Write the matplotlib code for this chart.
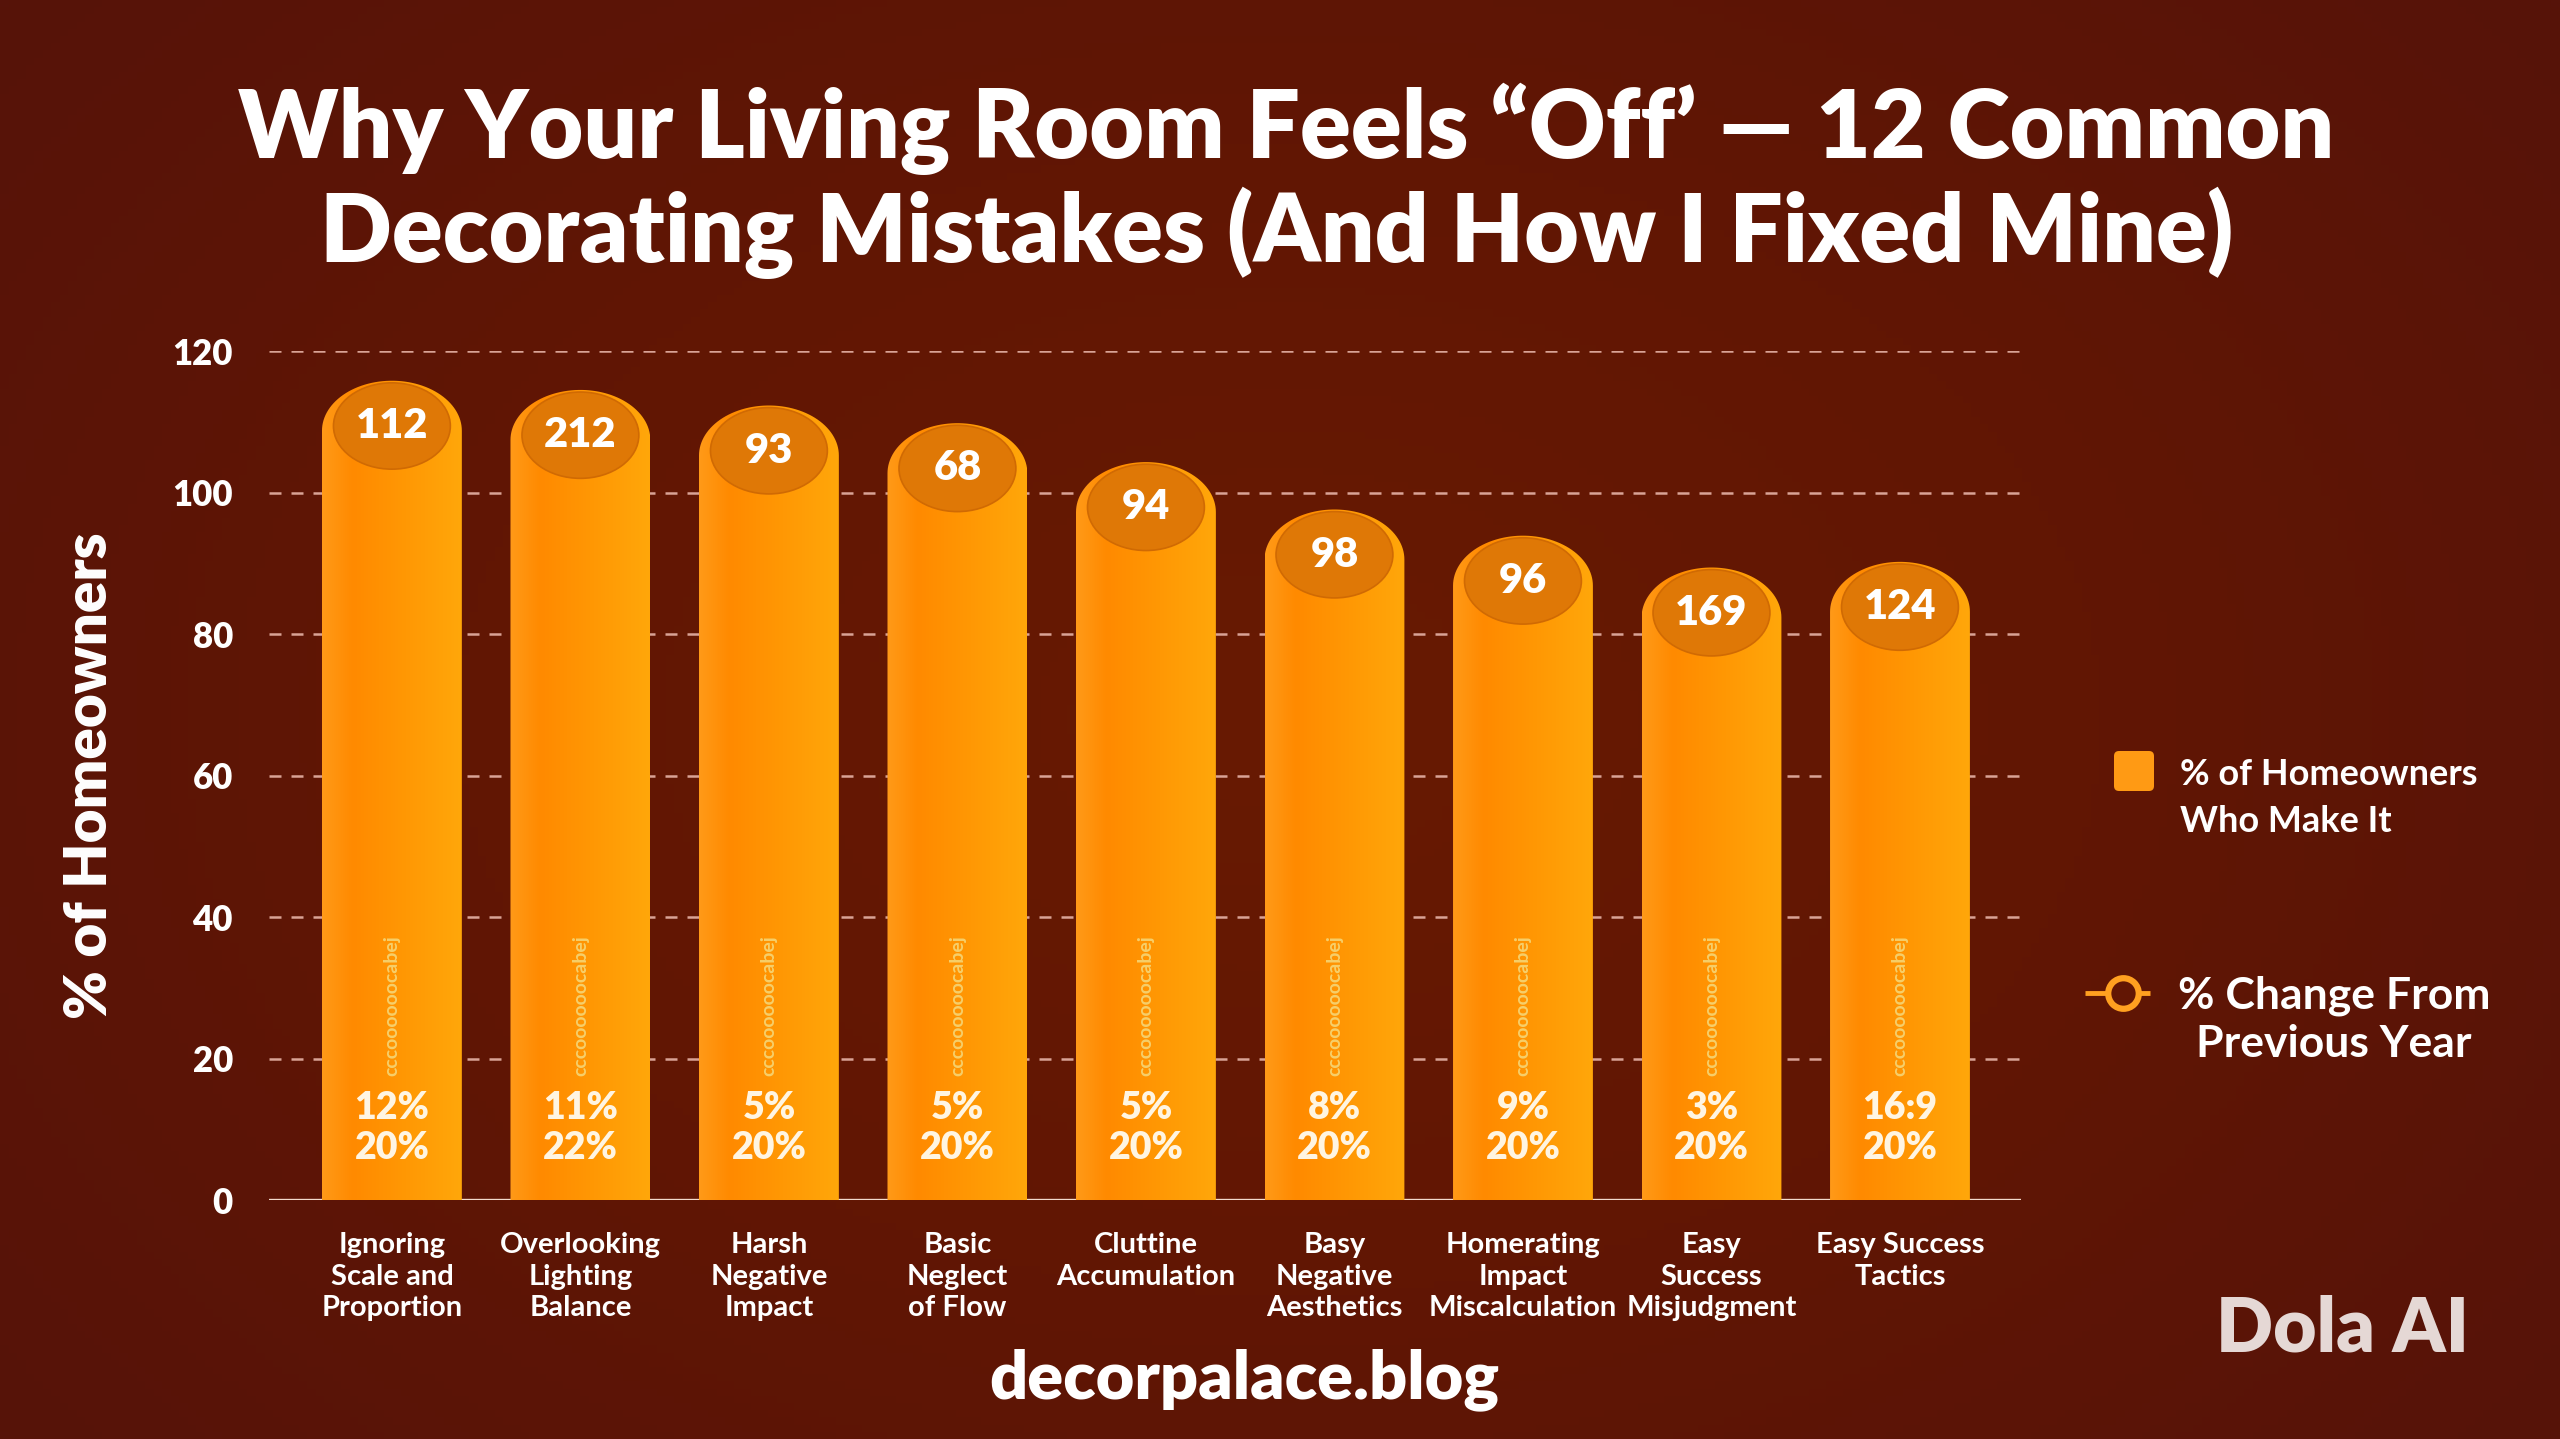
import numpy as np
import matplotlib
matplotlib.use("Agg")
from matplotlib import pyplot as plt
from matplotlib import font_manager
from matplotlib.path import Path
from matplotlib.patches import PathPatch, Ellipse, FancyBboxPatch
from matplotlib.colors import LinearSegmentedColormap

# data
categories = ["Ignoring\nScale and\nProportion", "Overlooking\nLighting\nBalance",
              "Harsh\nNegative\nImpact", "Basic\nNeglect\nof Flow", "Cluttine\nAccumulation",
              "Basy\nNegative\nAesthetics", "Homerating\nImpact\nMiscalculation",
              "Easy\nSuccess\nMisjudgment", "Easy Success\nTactics"]
homeowners = [115.8, 114.5, 112.3, 109.8, 104.3, 97.6, 93.9, 89.4, 90.2]
badges = ["112", "212", "93", "68", "94", "98", "96", "169", "124"]
change_pct = ["12%", "11%", "5%", "5%", "5%", "8%", "9%", "3%", "16:9"]
share_pct = ["20%", "22%", "20%", "20%", "20%", "20%", "20%", "20%", "20%"]
yticks = [0, 20, 40, 60, 80, 100, 120]

W, H = 2560, 1439
names = {f.name for f in font_manager.fontManager.ttflist}
FONT = "Lato" if "Lato" in names else "DejaVu Sans"
NARROW = "Liberation Sans Narrow" if "Liberation Sans Narrow" in names else FONT
plt.rcParams["font.family"] = [FONT, "DejaVu Sans"]

BG = "#621604"
fig = plt.figure(figsize=(W / 100, H / 100), dpi=100, facecolor=BG)


def fx(x):
    return x / W


def fy(y):
    return 1 - y / H


# background with a soft vignette, pixel coordinates
bg = fig.add_axes([0, 0, 1, 1], zorder=-10)
yy, xx = np.mgrid[0:1:200j, 0:1:300j]
r = np.sqrt((xx - 0.5) ** 2 + ((yy - 0.5) * 0.8) ** 2)
bg_cmap = LinearSegmentedColormap.from_list("bg", ["#681A02", "#611604", "#561309"])
bg.imshow(r, cmap=bg_cmap, extent=[0, W, H, 0], aspect="auto")
bg.set_xlim(0, W)
bg.set_ylim(H, 0)
bg.axis("off")

# main chart
ax = fig.add_axes([fx(269), fy(1200), fx(2021 - 269), (1200 - 351) / H])
ax.set_facecolor("none")
x = np.arange(len(categories))
half = 0.371
cap = 50 / 7.075

bar_cmap = LinearSegmentedColormap.from_list(
    "bar", [(0, "#FF9A18"), (0.22, "#FF8A00"), (0.6, "#FF9804"), (1, "#FFA70A")])
grad = np.tile(np.linspace(0, 1, 256), (64, 1))

for xi, h in zip(x, homeowners):
    t = np.linspace(0, np.pi, 60)
    verts = [(xi - half, 0), (xi + half, 0), (xi + half, h - cap)]
    verts += list(zip(xi + half * np.cos(t), h - cap + cap * np.sin(t)))
    verts += [(xi - half, 0)]
    codes = [Path.MOVETO] + [Path.LINETO] * (len(verts) - 2) + [Path.CLOSEPOLY]
    patch = PathPatch(Path(verts, codes), facecolor="none", edgecolor="none")
    ax.add_patch(patch)
    im = ax.imshow(grad, cmap=bar_cmap, extent=[xi - half, xi + half, 0, h],
                   aspect="auto", zorder=2)
    im.set_clip_path(patch)
    ax.add_patch(Ellipse((xi, h - 6.4), 0.62, 12.2, facecolor="#DF7806",
                         edgecolor="#D06A03", lw=1.2, zorder=3))

for xi, h, b in zip(x, homeowners, badges):
    ax.text(xi, h - 6.4, b, ha="center", va="center", fontsize=30,
            fontweight="heavy", color="white", zorder=5)

for xi, c, s in zip(x, change_pct, share_pct):
    ax.text(xi, 27.5, "cccoooooocabej", rotation=90, ha="center", va="center",
            fontsize=14, fontweight="bold", color="#F6CF6A", zorder=5)
    ax.text(xi, 13.0, c, ha="center", va="center", fontsize=27,
            fontweight="heavy", color="#FFF5E2", zorder=5)
    ax.text(xi, 7.3, s, ha="center", va="center", fontsize=27,
            fontweight="heavy", color="#FFF5E2", zorder=5)

ax.set_xlim(-0.652, 8.642)
ax.set_ylim(0, 120)
ax.set_yticks(yticks)
ax.set_yticklabels([str(v) for v in yticks], fontsize=25, fontweight="heavy", color="white")
ax.set_xticks(x)
ax.set_xticklabels(categories, fontsize=21, color="white", fontweight="bold",
                   family=[NARROW, "DejaVu Sans"], linespacing=1.27)
ax.tick_params(axis="y", length=0, pad=26)
ax.tick_params(axis="x", length=0, pad=23)
for sp in ax.spines.values():
    sp.set_visible(False)
ax.set_axisbelow(True)
ax.yaxis.grid(True, color="#D9A396", lw=1.8, linestyle=(0, (4.8, 4.0)))
ax.axhline(0, color="#F2DACD", lw=2.4, zorder=1)

# titles and texts
fig.text(fx(1286), fy(158), "Why Your Living Room Feels \u201cOff\u2019 \u2014 12 Common",
         ha="center", va="baseline", fontsize=68, fontweight="heavy", color="white")
fig.text(fx(1277), fy(262), "Decorating Mistakes (And How I Fixed Mine)",
         ha="center", va="baseline", fontsize=68, fontweight="heavy", color="white")
fig.text(fx(90), fy(776), "% of Homeowners", rotation=90, ha="center", va="center",
         fontsize=42, fontweight="heavy", color="white")
fig.text(fx(1244), fy(1398), "decorpalace.blog", ha="center", va="baseline",
         fontsize=48, fontweight="heavy", color="white")
fig.text(fx(2342), fy(1352), "Dola AI", ha="center", va="baseline",
         fontsize=54, fontweight="heavy", color="#E5D8D5")

# legend drawn in pixel space
bg.add_patch(FancyBboxPatch((2116, 753), 36, 36, boxstyle="round,pad=2,rounding_size=5",
                            facecolor="#FF9A14", edgecolor="none"))
fig.text(fx(2180), fy(798), "% of Homeowners\nWho Make It", ha="left", va="center",
         fontsize=26, fontweight="bold", color="white", linespacing=1.55)
bg.plot([2085, 2150], [993, 993], color="#FFA020", lw=3.5, solid_capstyle="butt")
bg.plot([2123], [993], marker="o", markersize=22, markerfacecolor=BG,
        markeredgecolor="#FFA020", markeredgewidth=4.5)
fig.text(fx(2334), fy(1020), "% Change From\nPrevious Year", ha="center", va="center",
         fontsize=32, fontweight="bold", color="white", linespacing=1.25,
         multialignment="center")

fig.savefig("out.png", dpi=100, facecolor=BG)
